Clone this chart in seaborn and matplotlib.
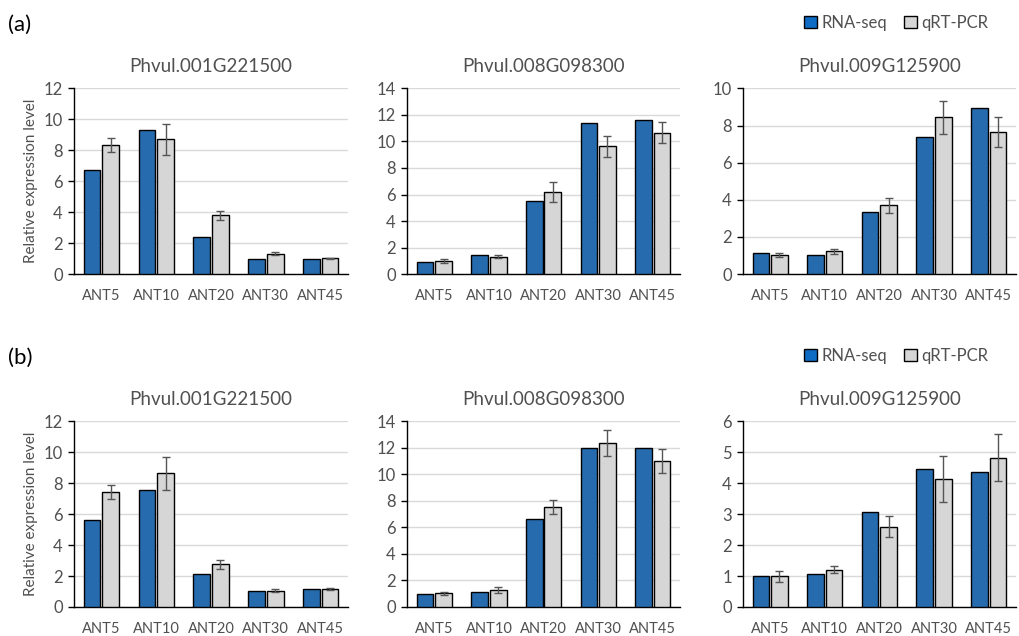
import numpy as np
import pandas as pd
import matplotlib
matplotlib.use("Agg")
import matplotlib.pyplot as plt
import seaborn as sns

stages = ["ANT5", "ANT10", "ANT20", "ANT30", "ANT45"]
genes = ["Phvul.001G221500", "Phvul.008G098300", "Phvul.009G125900"]
methods = ["RNA-seq", "qRT-PCR"]

# panel (a)
a_rnaseq = [
    [6.75, 9.33, 2.40, 1.00, 1.00],
    [0.95, 1.47, 5.53, 11.40, 11.63],
    [1.13, 1.05, 3.36, 7.38, 8.97],
]
a_qpcr = [
    [8.35, 8.70, 3.79, 1.33, 1.02],
    [0.96, 1.32, 6.16, 9.64, 10.65],
    [1.04, 1.22, 3.71, 8.44, 7.65],
]
a_qpcr_sd = [
    [0.45, 1.00, 0.30, 0.10, 0.05],
    [0.15, 0.10, 0.75, 0.78, 0.78],
    [0.10, 0.13, 0.40, 0.88, 0.80],
]

# panel (b)
b_rnaseq = [
    [5.62, 7.57, 2.12, 1.05, 1.15],
    [1.00, 1.12, 6.63, 12.02, 12.02],
    [0.99, 1.05, 3.06, 4.46, 4.35],
]
b_qpcr = [
    [7.43, 8.63, 2.76, 1.05, 1.15],
    [1.02, 1.27, 7.52, 12.38, 11.03],
    [0.99, 1.21, 2.60, 4.13, 4.83],
]
b_qpcr_sd = [
    [0.48, 1.08, 0.30, 0.10, 0.08],
    [0.12, 0.22, 0.52, 0.98, 0.90],
    [0.17, 0.12, 0.33, 0.75, 0.76],
]

y_max = [[12, 14, 10], [12, 14, 6]]
y_step = [[2, 2, 2], [2, 2, 1]]

blue = "#0f6cc4"
grey = "#d6d6d6"
text_col = "#505050"

sns.set_theme(style="white")
plt.rcParams["font.family"] = ["Lato", "DejaVu Sans"]

fig = plt.figure(figsize=(10.19, 6.36), dpi=100)

lefts = [0.0726, 0.3994, 0.729]
widths = [0.269, 0.268, 0.268]
bottoms = [0.569, 0.0456]
height = 0.292

panels = [(a_rnaseq, a_qpcr, a_qpcr_sd), (b_rnaseq, b_qpcr, b_qpcr_sd)]

for r, (rna, qpcr, sd) in enumerate(panels):
    for c, gene in enumerate(genes):
        ax = fig.add_axes([lefts[c], bottoms[r], widths[c], height])
        df = pd.DataFrame({
            "stage": stages * 2,
            "method": [methods[0]] * 5 + [methods[1]] * 5,
            "value": rna[c] + qpcr[c],
        })
        sns.barplot(data=df, x="stage", y="value", hue="method",
                    order=stages, hue_order=methods,
                    palette=[blue, grey], width=0.68, gap=0.1,
                    edgecolor="black", linewidth=1.0, errorbar=None,
                    legend=False, ax=ax, zorder=3)
        # error bars on qRT-PCR bars
        xs = [p.get_x() + p.get_width() / 2 for p in ax.containers[1]]
        ax.errorbar(xs, qpcr[c], yerr=sd[c], fmt="none", ecolor="#555555",
                    elinewidth=1.0, capsize=3, capthick=1.0, zorder=4)

        ax.set_ylim(0, y_max[r][c])
        ax.set_yticks(np.arange(0, y_max[r][c] + 0.01, y_step[r][c]))
        ax.set_xlim(-0.5, 4.5)
        ax.grid(axis="y", color="#d9d9d9", linewidth=1.0, zorder=0)
        ax.set_axisbelow(True)
        sns.despine(ax=ax, top=True, right=True)
        ax.spines["left"].set_color("black")
        ax.spines["bottom"].set_color("black")
        ax.spines["left"].set_linewidth(1.0)
        ax.spines["bottom"].set_linewidth(1.0)
        ax.tick_params(axis="y", left=True, length=4, width=1, color="black",
                       labelsize=12, labelcolor=text_col, pad=4)
        ax.tick_params(axis="x", bottom=False, labelsize=10.5,
                       labelcolor=text_col, pad=5)
        ax.set_xlabel("")
        if c == 0:
            ax.set_ylabel("Relative expression level", fontsize=11,
                          color=text_col, labelpad=4)
        else:
            ax.set_ylabel("")
        ax.set_title(gene, fontsize=13.5, color=text_col, pad=12)

    # panel letters and legend
    top = bottoms[r] + height
    fig.text(0.008, top + 0.10, "(a)" if r == 0 else "(b)", fontsize=16,
             color="black", va="center", ha="left")
    handles = [plt.Rectangle((0, 0), 1, 1, facecolor=blue, edgecolor="black", lw=1),
               plt.Rectangle((0, 0), 1, 1, facecolor=grey, edgecolor="black", lw=1)]
    fig.legend(handles, methods, loc="center right",
               bbox_to_anchor=(0.985, top + 0.103), ncol=2, frameon=False,
               fontsize=12, handlelength=0.75, handleheight=0.75,
               handletextpad=0.3, columnspacing=1.0, labelcolor=text_col)

fig.savefig("out.png", dpi=100)
